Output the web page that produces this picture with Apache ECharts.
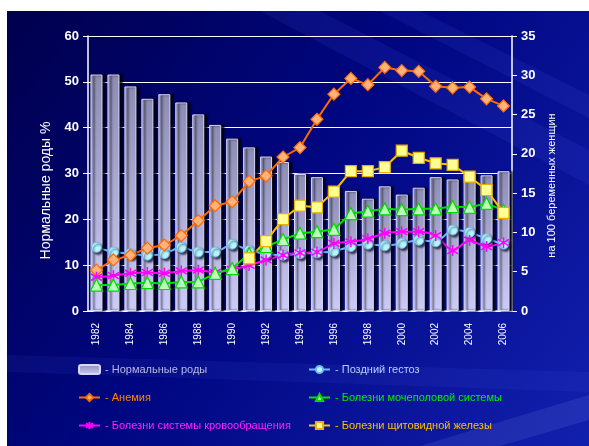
<!DOCTYPE HTML>
<html>
<head>
    <title>Нормальные роды и заболевания</title>
    <meta http-equiv="Content-Type" content="text/html; charset=UTF-8"/>
    <script type="text/javascript" src="https://cdn.jsdelivr.net/npm/echarts@6/dist/echarts.min.js"></script>
    <style type="text/css">
        html, body { margin: 0; padding: 0; background: #fff; }
    </style>
</head>
<body>
<div id="main" style="width: 589px; height: 446px;"></div>
<script type="text/javascript">
    // годы
    var years = ['1982', '1983', '1984', '1985', '1986', '1987', '1988', '1989', '1990', '1991', '1992', '1993',
        '1994', '1995', '1996', '1997', '1998', '1999', '2000', '2001', '2002', '2003', '2004', '2005', '2006'];

    // левая ось, %
    var normal = [51.6, 51.6, 49.0, 46.3, 47.3, 45.5, 42.9, 40.6, 37.6, 35.7, 33.7, 32.5,
        29.9, 29.2, 26.7, 26.2, 24.5, 27.2, 25.4, 26.9, 29.2, 28.7, 29.9, 29.6, 30.5];

    // правая ось, на 100 беременных
    var gestoz = [8.1, 7.5, 7.3, 7.1, 7.3, 8.1, 7.5, 7.5, 8.5, 7.7, 7.3, 7.1,
        7.3, 7.4, 7.6, 8.2, 8.5, 8.3, 8.6, 9.0, 8.8, 10.3, 10.0, 9.2, 8.5];
    var anemia = [5.2, 6.5, 7.1, 8.0, 8.4, 9.6, 11.5, 13.4, 13.9, 16.5, 17.2, 19.6,
        20.8, 24.4, 27.6, 29.6, 28.8, 31.0, 30.6, 30.5, 28.6, 28.4, 28.5, 27.0, 26.1];
    var urinary = [3.3, 3.3, 3.5, 3.6, 3.5, 3.7, 3.7, 4.8, 5.4, 7.3, 8.2, 9.1,
        9.9, 10.1, 10.4, 12.4, 12.7, 13.0, 12.9, 13.0, 13.0, 13.3, 13.2, 13.7, 12.8];
    var blood = [4.3, 4.5, 4.8, 4.9, 4.8, 5.1, 5.2, 4.9, 5.3, 5.8, 6.5, 7.1,
        7.4, 7.5, 8.6, 8.8, 9.2, 9.9, 10.1, 10.1, 9.6, 7.7, 9.0, 8.2, 8.7];
    var thyroid = ['-', '-', '-', '-', '-', '-', '-', '-', '-', 6.7, 8.9, 11.7,
        13.4, 13.2, 15.2, 17.8, 17.8, 18.3, 20.4, 19.5, 18.8, 18.6, 17.1, 15.4, 12.5];

    var leftTicks = {min: 0, max: 60, step: 10};
    var rightTicks = {min: 0, max: 35, step: 5};

    var FONT = 'Liberation Sans, Arial, sans-serif';
    var star = 'path://M5,0L5,10M0.7,2L9.3,8M0.7,8L9.3,2';
    var markShadow = {shadowColor: 'rgba(0,0,20,0.7)', shadowBlur: 2, shadowOffsetX: 2, shadowOffsetY: 2};

    var myChart = echarts.init(document.getElementById('main'));

    var option = {
        animation: false,
        backgroundColor: '#ffffff',
        textStyle: {fontFamily: FONT},
        // синий фон слайда с бликами
        graphic: [
            {
                type: 'rect', z: -10, left: 7, top: 11,
                shape: {width: 582, height: 435},
                style: {
                    fill: new echarts.graphic.LinearGradient(0, 0, 1, 1, [
                        {offset: 0, color: '#00004c'},
                        {offset: 0.45, color: '#000680'},
                        {offset: 1, color: '#1220ae'}
                    ])
                }
            },
            {
                type: 'polygon', z: -9, silent: true,
                shape: {points: [[260, 11], [320, 11], [589, 150], [589, 185]]},
                style: {fill: 'rgba(90,110,255,0.10)'}
            },
            {
                type: 'polygon', z: -9, silent: true,
                shape: {points: [[380, 11], [420, 11], [589, 95], [589, 118]]},
                style: {fill: 'rgba(90,110,255,0.10)'}
            },
            {
                type: 'polygon', z: -9, silent: true,
                shape: {points: [[7, 355], [7, 372], [589, 392], [589, 372]]},
                style: {fill: 'rgba(90,110,255,0.08)'}
            },
            {
                type: 'polygon', z: -9, silent: true,
                shape: {points: [[420, 446], [589, 395], [589, 420], [500, 446]]},
                style: {fill: 'rgba(150,170,255,0.12)'}
            }
        ],
        grid: {left: 88, right: 77, top: 36, bottom: 135},
        legend: [
            {
                orient: 'vertical', left: 73, top: 359,
                itemWidth: 21, itemHeight: 9, itemGap: 17,
                formatter: '- {name}',
                textStyle: {fontSize: 11, fontFamily: FONT},
                data: [
                    {name: 'Нормальные роды', textStyle: {color: '#b8b8e4'}},
                    {name: 'Анемия', textStyle: {color: '#ff8a00'}},
                    {name: 'Болезни системы кровообращения', textStyle: {color: '#ff22ff'}}
                ]
            },
            {
                orient: 'vertical', left: 303, top: 359,
                itemWidth: 21, itemHeight: 9, itemGap: 17,
                formatter: '- {name}',
                textStyle: {fontSize: 11, fontFamily: FONT},
                data: [
                    {name: 'Поздний гестоз', textStyle: {color: '#b8ccff'}},
                    {name: 'Болезни мочеполовой системы', textStyle: {color: '#00ee00'}},
                    {name: 'Болезни щитовидной железы', textStyle: {color: '#ffc000'}}
                ]
            }
        ],
        xAxis: {
            type: 'category',
            data: years,
            axisLine: {lineStyle: {color: '#ffffff', width: 1.5}},
            axisTick: {interval: 0, length: 4, lineStyle: {color: '#ffffff'}},
            axisLabel: {
                interval: 1, rotate: 90, margin: 12,
                color: '#ffffff', fontSize: 10, fontFamily: FONT
            }
        },
        yAxis: [
            {
                type: 'value',
                min: leftTicks.min, max: leftTicks.max, interval: leftTicks.step,
                name: 'Нормальные роды %',
                nameLocation: 'middle', nameRotate: 90, nameGap: 32,
                nameTextStyle: {color: '#ffffff', fontSize: 14, fontFamily: FONT, padding: [0, 34, 0, 0]},
                axisLine: {show: true, lineStyle: {color: '#ffffff', width: 1.5}},
                axisTick: {show: true, length: 5, lineStyle: {color: '#ffffff'}},
                axisLabel: {color: '#ffffff', fontSize: 13, fontWeight: 'bold', margin: 9, fontFamily: FONT},
                splitLine: {lineStyle: {color: '#ffffff', width: 1}}
            },
            {
                type: 'value',
                min: rightTicks.min, max: rightTicks.max, interval: rightTicks.step,
                name: 'на 100 беременных женщин',
                nameLocation: 'middle', nameRotate: 90, nameGap: 33,
                nameTextStyle: {color: '#ffffff', fontSize: 11, fontFamily: FONT, padding: [0, 24, 0, 0]},
                axisLine: {show: true, lineStyle: {color: '#ffffff', width: 1.5}},
                axisTick: {show: true, length: 5, lineStyle: {color: '#ffffff'}},
                axisLabel: {color: '#ffffff', fontSize: 13, fontWeight: 'bold', margin: 9, fontFamily: FONT},
                splitLine: {show: false}
            }
        ],
        series: [
            {
                name: 'Нормальные роды',
                type: 'bar',
                yAxisIndex: 0,
                barWidth: 12,
                data: normal,
                itemStyle: {
                    color: new echarts.graphic.LinearGradient(0, 0, 0, 1, [
                        {offset: 0, color: '#8c8cb4'},
                        {offset: 1, color: '#ccccf8'}
                    ]),
                    borderColor: '#d6d6ff',
                    borderWidth: 1,
                    shadowColor: 'rgba(0,0,0,0.85)',
                    shadowBlur: 2,
                    shadowOffsetX: 3
                }
            },
            {
                name: 'Поздний гестоз',
                type: 'line',
                yAxisIndex: 1,
                data: gestoz,
                smooth: 0.25,
                showAllSymbol: true,
                symbol: 'circle', symbolSize: 10,
                lineStyle: {color: '#76b4ff', width: 2},
                itemStyle: Object.assign({color: '#b4f6ff', borderColor: '#70b8e8', borderWidth: 1}, markShadow)
            },
            {
                name: 'Анемия',
                type: 'line',
                yAxisIndex: 1,
                data: anemia,
                showAllSymbol: true,
                symbol: 'diamond', symbolSize: 12,
                lineStyle: {color: '#ff6a00', width: 2},
                itemStyle: {color: '#ffb27a', borderColor: '#ff6a00', borderWidth: 1.2}
            },
            {
                name: 'Болезни системы кровообращения',
                type: 'line',
                yAxisIndex: 1,
                data: blood,
                smooth: 0.25,
                showAllSymbol: true,
                symbol: star, symbolSize: 11,
                lineStyle: {color: '#ff00ff', width: 2},
                itemStyle: {color: 'rgba(0,0,0,0)', borderColor: '#ff00ff', borderWidth: 1.5}
            },
            {
                name: 'Болезни мочеполовой системы',
                type: 'line',
                yAxisIndex: 1,
                data: urinary,
                showAllSymbol: true,
                symbol: 'triangle', symbolSize: 12,
                lineStyle: {color: '#00e000', width: 2},
                itemStyle: {color: '#baffba', borderColor: '#00d800', borderWidth: 1.2}
            },
            {
                name: 'Болезни щитовидной железы',
                type: 'line',
                yAxisIndex: 1,
                data: thyroid,
                showAllSymbol: true,
                symbol: 'rect', symbolSize: 11,
                lineStyle: {color: '#ffc000', width: 2},
                itemStyle: {color: '#ffff94', borderColor: '#e8b000', borderWidth: 1.2}
            }
        ]
    };

    myChart.setOption(option);
</script>
</body>
</html>
